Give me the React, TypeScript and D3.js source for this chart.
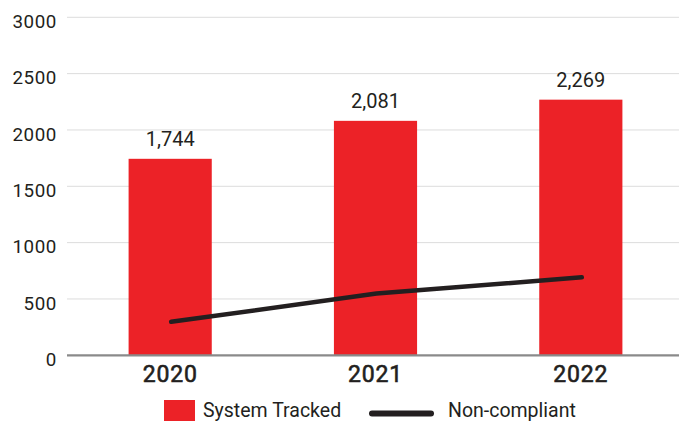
import React from "react";
import * as d3 from "d3";

const categories = ["2020", "2021", "2022"];
const systemTracked = [1744, 2081, 2269];
const nonCompliant = [297, 548, 692];
const yTicks = [0, 500, 1000, 1500, 2000, 2500, 3000];
const legendLabels = ["System Tracked", "Non-compliant"];

const W = 679;
const H = 421;
const RED = "#EC2227";
const DARK = "#231F20";
const FONT = "Roboto, 'Noto Sans', sans-serif";

export default function App() {
  const x = d3
    .scaleBand<string>()
    .domain(categories)
    .range([67, 684])
    .paddingInner(0.595)
    .paddingOuter(0.3);
  const y = d3.scaleLinear().domain([0, 3000]).range([355.3, 17.3]);

  const line = d3
    .line<number>()
    .x((_, i) => (x(categories[i]) as number) + x.bandwidth() / 2 + 1)
    .y((d) => y(d));

  return (
    <svg
      width={W}
      height={H}
      style={{ position: "absolute", left: 0, top: 0, background: "#fff" }}
      fontFamily={FONT}
    >
      {yTicks.map((t) => (
        <g key={t}>
          {t !== 0 && (
            <line x1={67} x2={W} y1={y(t)} y2={y(t)} stroke="#dcdcdc" strokeWidth={1} />
          )}
          <text
            x={57}
            y={y(t) + 10.7}
            textAnchor="end"
            fontSize={18.8}
            letterSpacing={0.6}
            fill={DARK}
          >
            {t}
          </text>
        </g>
      ))}
      {systemTracked.map((v, i) => (
        <rect
          key={categories[i]}
          x={x(categories[i])}
          y={y(v)}
          width={x.bandwidth()}
          height={y(0) - y(v)}
          fill={RED}
        />
      ))}
      <line x1={67} x2={W} y1={y(0)} y2={y(0)} stroke="#8a8a8a" strokeWidth={2.2} />
      {systemTracked.map((v, i) => (
        <text
          key={"l" + i}
          x={(x(categories[i]) as number) + x.bandwidth() / 2}
          y={y(v) - 13}
          textAnchor="middle"
          fontSize={20}
          fill={DARK}
        >
          {d3.format(",")(v)}
        </text>
      ))}
      <path
        d={line(nonCompliant) || ""}
        fill="none"
        stroke={DARK}
        strokeWidth={4.5}
        strokeLinecap="round"
        strokeLinejoin="round"
      />
      {categories.map((c) => (
        <text
          key={"x" + c}
          x={(x(c) as number) + x.bandwidth() / 2}
          y={381.7}
          textAnchor="middle"
          fontSize={23}
          fontWeight={400}
          letterSpacing={0.8}
          fill={DARK}
          stroke={DARK}
          strokeWidth={0.6}
        >
          {c}
        </text>
      ))}
      <rect x={164} y={400} width={31} height={22} fill={RED} />
      <text x={203} y={416.8} fontSize={19.5} fill={DARK}>
        {legendLabels[0]}
      </text>
      <line x1={372} x2={431} y1={413.5} y2={413.5} stroke={DARK} strokeWidth={6} strokeLinecap="round" />
      <text x={448} y={416.8} fontSize={19.5} fill={DARK}>
        {legendLabels[1]}
      </text>
    </svg>
  );
}
